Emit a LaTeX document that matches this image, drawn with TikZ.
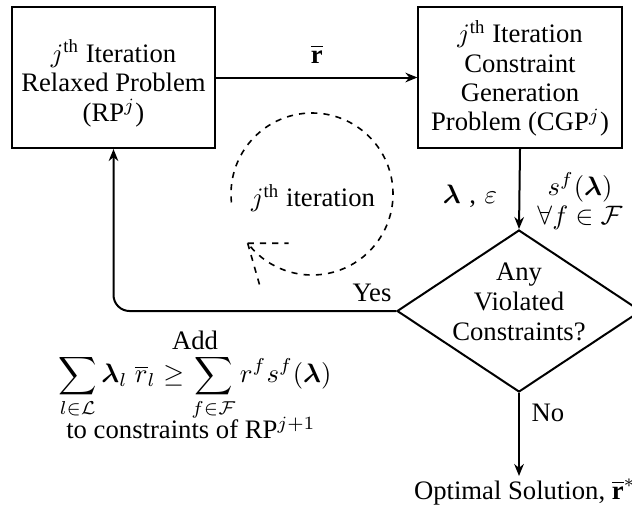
\documentclass[tikz,border=0pt]{standalone}
\usepackage{amsmath}
\usepackage{fontspec}
\setmainfont{Liberation Serif}
\usetikzlibrary{shapes.geometric,arrows.meta}
\begin{document}
\begin{tikzpicture}[x=0.375pt,y=-0.375pt,
  font=\fontsize{10}{11}\selectfont,
  box/.style={draw, line width=0.75pt, minimum width=76.2pt, minimum height=52.9pt, inner sep=0pt},
  flow/.style={line width=0.75pt, -{Stealth[length=4.5pt,width=3.6pt]}},
  cyc/.style={dash pattern=on 2.3pt off 2.3pt, line width=0.6pt},
  lbl/.style={inner sep=1pt},
  txt/.style={inner sep=1pt, align=center}]
\useasboundingbox (0,0) rectangle (632,508);

\node[box] (rp) at (113.5,77.5) {};
\node[txt] (rpt) at (113.5,83.5) {$j^{\text{th}}$ Iteration\\Relaxed Problem\\(RP$^j$)};
\node[box] (cgp) at (520,77.5) {};
\node[txt] (cgpt) at (520,78.5) {$j^{\text{th}}$ Iteration\\Constraint\\Generation\\Problem (CGP$^j$)};
\node[diamond, draw, line width=0.75pt, minimum width=91.5pt, minimum height=60.75pt, inner sep=0pt] (dec) at (519,311) {};
\node[txt, font=\fontsize{10}{11.3}\selectfont] (dect) at (519,302) {Any\\Violated\\Constraints?};
\node[anchor=north, lbl] (opt) at (525,476) {Optimal Solution, $\overline{\mathbf r}^{*}$};

\draw[flow] (rp.east) -- node[above=4pt, lbl] (rbar) {$\overline{\mathbf r}$} (cgp.west);
\draw[flow] (cgp.south) -- (dec.north);
\draw[flow] (dec.south) -- (dec.south |- opt.north);
\draw[flow, rounded corners=6pt] (dec.west) -| (rp.south);

\node[lbl] (le) at (470,196) {$\boldsymbol\lambda$\hspace{3.2pt},\hspace{3.2pt}$\varepsilon$};
\node[txt] (sf) at (580,201) {$s^f(\boldsymbol\lambda)$\\$\forall f\in\mathcal{F}$};
\node[lbl] (yes) at (372,293) {Yes};
\node[lbl] (no) at (548,413) {No};

\coordinate (cc) at (312,194);
\node[lbl] (iter) at (313,198) {$j^{\text{th}}$ iteration};
\draw[cyc] (cc) ++(174:81) arc[start angle=174, end angle=502.6, radius=81] coordinate (tipa);
\draw[cyc] (tipa) -- ++(41,0) (tipa) -- ++(12,42);

\node[lbl] (add) at (195,340) {Add};
\node[lbl, font=\fontsize{9.6}{11}\selectfont] (ineq) at (195,388) {$\displaystyle\sum_{l\in\mathcal{L}}\boldsymbol\lambda_l\;\overline{r}_l \geq \sum_{f\in\mathcal{F}} r^f s^f(\boldsymbol\lambda)$};
\node[lbl] (toc) at (191,428) {to constraints of RP$^{j+1}$};
\end{tikzpicture}
\end{document}
